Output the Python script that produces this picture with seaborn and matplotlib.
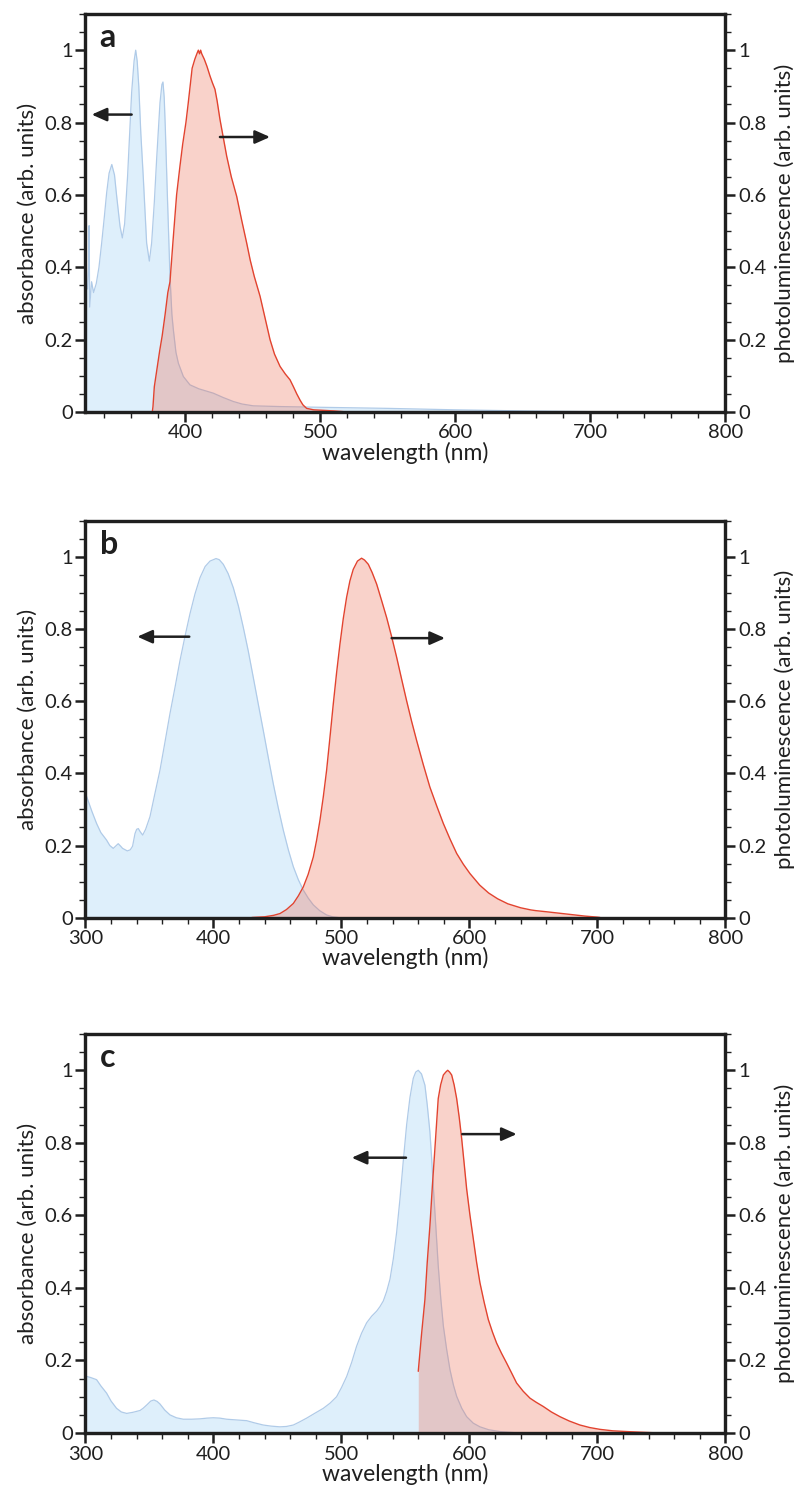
import numpy as np
import pandas as pd
import seaborn as sns
import matplotlib
matplotlib.use("Agg")
import matplotlib.pyplot as plt
from matplotlib.ticker import MultipleLocator, FuncFormatter

sns.set_theme(style="ticks")
plt.rcParams['font.family'] = ['Lato', 'DejaVu Sans']

# ---------------- data ----------------
# Panel a
a_abs_wl = [326, 327.5, 328.3, 328.7, 329.1, 330.5, 332, 334, 336, 338, 340, 341.7, 343.5, 345.5,
            347.5, 349.1, 351.6, 353.3, 355, 357.2, 360.2, 362, 363.2, 364.3, 365.5, 367, 368.8,
            371.3, 373.3, 375, 377, 378.7, 381.2, 382.6, 383.4, 384.3, 385.1, 386.6, 388.6, 390,
            391.1, 393, 394.8, 398.5, 403.4, 410, 420.7, 428, 435.5, 442, 450.3, 470, 500, 550,
            600, 650, 700, 800]
a_abs = [0.35, 0.34, 0.40, 0.515, 0.29, 0.36, 0.33, 0.355, 0.40, 0.467, 0.54, 0.606, 0.66, 0.684,
         0.655, 0.597, 0.513, 0.481, 0.52, 0.652, 0.883, 0.97, 1.0, 0.97, 0.90, 0.77, 0.65,
         0.467, 0.417, 0.467, 0.58, 0.698, 0.855, 0.905, 0.912, 0.87, 0.79, 0.606, 0.375, 0.27,
         0.227, 0.165, 0.135, 0.098, 0.075, 0.064, 0.052, 0.04, 0.029, 0.022, 0.017, 0.015, 0.013,
         0.010, 0.006, 0.003, 0.001, 0.0]
a_pl_wl = [375.5, 376, 377, 379, 381, 382.8, 385, 387, 388.6, 391, 393.5, 396, 398, 400.4, 402,
           403.5, 405, 407, 408.5, 409.6, 410.5, 411.3, 412.1, 414, 416, 418.2, 420, 421.9, 423.5,
           425.6, 428, 430.6, 434, 438, 441.7, 445.4, 448, 451, 455.3, 459, 462.7, 466, 470.1,
           474, 477.5, 480, 482.5, 484.9, 487, 489.8, 495, 500, 510, 520]
a_pl = [0.0, 0.015, 0.07, 0.12, 0.17, 0.21, 0.27, 0.33, 0.36, 0.48, 0.60, 0.68, 0.74, 0.80, 0.85,
        0.90, 0.95, 0.975, 0.99, 1.0, 0.99, 1.0, 0.99, 0.975, 0.955, 0.929, 0.91, 0.892, 0.86,
        0.809, 0.76, 0.707, 0.65, 0.596, 0.53, 0.467, 0.42, 0.375, 0.32, 0.26, 0.2, 0.16, 0.126,
        0.105, 0.089, 0.07, 0.05, 0.033, 0.02, 0.01, 0.006, 0.005, 0.003, 0.0]

# Panel b
b_abs_wl = [300, 301, 305, 308.7, 312, 316.5, 319, 321.7, 323.5, 325.6, 327.5, 329, 332.7, 335,
            336.8, 338.7, 340, 341.3, 342.8, 344.7, 347, 350.4, 354, 358.2, 362, 366, 370, 373.8,
            377.7, 381.6, 385.5, 389.5, 393.5, 397.3, 402, 404.5, 407.7, 411.5, 415.5, 419.5,
            423.3, 427.2, 431.1, 435, 438.9, 442.8, 446.7, 450.6, 454.6, 458.5, 462.4, 466.3,
            470.2, 474, 478, 483, 488.4, 493, 497.5]
b_abs = [0.345, 0.335, 0.295, 0.261, 0.236, 0.215, 0.2, 0.192, 0.198, 0.205, 0.198, 0.192, 0.185,
         0.188, 0.198, 0.233, 0.245, 0.247, 0.238, 0.229, 0.245, 0.28, 0.34, 0.409, 0.485, 0.566,
         0.64, 0.713, 0.78, 0.843, 0.898, 0.944, 0.975, 0.99, 0.997, 0.994, 0.981, 0.955, 0.916,
         0.865, 0.806, 0.74, 0.667, 0.593, 0.520, 0.445, 0.372, 0.305, 0.242, 0.188, 0.141, 0.105,
         0.076, 0.054, 0.035, 0.019, 0.007, 0.002, 0.0]
b_pl_wl = [430, 440, 447, 452, 457, 462.4, 466.3, 470.2, 474, 478, 480.6, 483.2, 485.8, 488.4, 491,
           493.6, 496.2, 498.8, 501.4, 504, 506.6, 509.2, 512.5, 515.7, 518, 521, 524, 527.5,
           531.4, 535.3, 539.2, 543.1, 547, 550.9, 554.8, 558.7, 563.9, 569.1, 574.4, 579.6,
           584.8, 590, 595.2, 600.4, 608, 615, 622, 630, 640, 648, 652, 660, 670, 680, 690, 700, 702]
b_pl = [0.0, 0.002, 0.006, 0.011, 0.022, 0.039, 0.06, 0.085, 0.12, 0.168, 0.215, 0.270, 0.335,
        0.409, 0.50, 0.593, 0.68, 0.759, 0.83, 0.889, 0.935, 0.967, 0.99, 0.998, 0.993, 0.981,
        0.958, 0.926, 0.88, 0.833, 0.78, 0.723, 0.662, 0.602, 0.545, 0.492, 0.425, 0.362, 0.31,
        0.261, 0.218, 0.178, 0.148, 0.122, 0.09, 0.068, 0.052, 0.038, 0.027, 0.021, 0.019, 0.016,
        0.012, 0.008, 0.004, 0.001, 0.0]

# Panel c
c_abs_wl = [300, 300.9, 304, 308.7, 312, 316.5, 320, 324.3, 328, 332.2, 337, 342.6, 345, 347.8, 351,
            353.5, 356, 358.2, 362, 366, 371, 376.4, 383, 389.4, 395, 399.9, 405, 410.3, 418,
            425.9, 432, 438.9, 445, 451.9, 457, 462.4, 467, 472.8, 479, 485.8, 491, 496.2, 500,
            504.1, 508, 511.8, 515.7, 519.7, 523.6, 527.5, 530, 532.7, 535.3, 537.9, 540.5, 543.1,
            545.7, 548.3, 550.9, 553.5, 556.1, 558, 560, 562.5, 565.2, 567, 569.1, 570.4, 571.7,
            573.7, 575.6, 577.6, 579.6, 582.2, 584.8, 587.4, 590, 594, 597.8, 603, 608.2, 615,
            623.8, 635, 650]
c_abs = [0.157, 0.156, 0.153, 0.147, 0.13, 0.110, 0.088, 0.068, 0.058, 0.054, 0.057, 0.062, 0.068,
         0.077, 0.088, 0.091, 0.087, 0.08, 0.063, 0.050, 0.042, 0.038, 0.038, 0.039, 0.041, 0.042,
         0.041, 0.038, 0.036, 0.034, 0.028, 0.022, 0.019, 0.017, 0.018, 0.022, 0.03, 0.041, 0.054,
         0.068, 0.082, 0.100, 0.125, 0.156, 0.195, 0.239, 0.275, 0.304, 0.322, 0.336, 0.348,
         0.364, 0.39, 0.424, 0.48, 0.553, 0.645, 0.75, 0.849, 0.925, 0.978, 0.995, 1.0, 0.99,
         0.959, 0.905, 0.830, 0.76, 0.682, 0.57, 0.461, 0.37, 0.295, 0.23, 0.174, 0.133, 0.101,
         0.068, 0.045, 0.027, 0.017, 0.009, 0.004, 0.001, 0.0]
c_pl_wl = [560, 562.5, 565.2, 567, 569.1, 571, 573, 575.6, 577.5, 579.6, 581.5, 583, 584.5, 586.1,
           588, 590, 592, 593.9, 595.8, 597.8, 600.4, 603, 605.6, 608.2, 611.5, 614.7, 618, 621.2,
           625, 629, 633, 636.8, 642, 647.3, 652, 657.7, 664, 670.7, 678, 686.3, 694, 702, 712,
           722.8, 735, 748.8]
c_pl = [0.17, 0.27, 0.368, 0.47, 0.571, 0.68, 0.784, 0.922, 0.96, 0.987, 0.995, 1.0, 0.995, 0.987,
        0.96, 0.922, 0.87, 0.812, 0.745, 0.673, 0.60, 0.535, 0.47, 0.414, 0.36, 0.313, 0.278,
        0.248, 0.22, 0.193, 0.165, 0.138, 0.115, 0.096, 0.085, 0.073, 0.058, 0.045, 0.033, 0.022,
        0.015, 0.010, 0.006, 0.004, 0.002, 0.0]

panel_letters = ["a", "b", "c"]
x_ranges = [(326, 800), (300, 800), (300, 800)]
# arrows: (tail_x, head_x, y) for absorbance (left) and PL (right)
abs_arrows = [(360.2, 330.6, 0.822), (381.1, 340.5, 0.78), (550.4, 508.0, 0.759)]
pl_arrows = [(425.6, 462.7, 0.76), (539.2, 580.9, 0.776), (594.4, 636.9, 0.824)]

# ---------------- style ----------------
ABS_LINE = "#b0cbe8"
ABS_FILL = "#a3d2f6"
PL_LINE = "#e2432f"
PL_FILL = "#ec6a50"
INK = "#1f1f1f"
TICK_FS = 14.5
LABEL_FS = 16

fig = plt.figure(figsize=(7.98, 14.91), dpi=100)
L, W = 0.1071, 0.802
axes_pos = [(0.72368, 0.26694), (0.38464, 0.2656), (0.03890, 0.2676)]

datasets = [(a_abs_wl, a_abs, a_pl_wl, a_pl),
            (b_abs_wl, b_abs, b_pl_wl, b_pl),
            (c_abs_wl, c_abs, c_pl_wl, c_pl)]

fmt = FuncFormatter(lambda v, p: f"{v:g}")

for i, (aw, av, pw, pv) in enumerate(datasets):
    bottom, height = axes_pos[i]
    ax = fig.add_axes([L, bottom, W, height])
    ax2 = ax.twinx()

    df_abs = pd.DataFrame({"wavelength": aw, "absorbance": av})
    df_pl = pd.DataFrame({"wavelength": pw, "pl": pv})

    ax.fill_between(df_abs["wavelength"], 0, df_abs["absorbance"], color=ABS_FILL,
                    alpha=0.35, linewidth=0)
    sns.lineplot(data=df_abs, x="wavelength", y="absorbance", ax=ax, color=ABS_LINE,
                 linewidth=0.9, sort=False, estimator=None)
    ax2.fill_between(df_pl["wavelength"], 0, df_pl["pl"], color=PL_FILL, alpha=0.3,
                     linewidth=0)
    sns.lineplot(data=df_pl, x="wavelength", y="pl", ax=ax2, color=PL_LINE,
                 linewidth=1.0, sort=False, estimator=None)

    for a in (ax, ax2):
        a.set_xlim(*x_ranges[i])
        a.set_ylim(0, 1.1)
        a.yaxis.set_major_locator(MultipleLocator(0.2))
        a.yaxis.set_minor_locator(MultipleLocator(0.05))
        a.yaxis.set_major_formatter(fmt)
        for s in a.spines.values():
            s.set_linewidth(2.3)
            s.set_color(INK)
            s.set_visible(True)
    ax.xaxis.set_major_locator(MultipleLocator(100))
    ax.xaxis.set_minor_locator(MultipleLocator(20))

    ax.tick_params(axis="both", which="major", direction="out", length=7, width=1.8,
                   color=INK, labelsize=TICK_FS, labelcolor=INK, pad=2)
    ax.tick_params(axis="both", which="minor", direction="out", length=4.5, width=1.0,
                   color=INK)
    ax.tick_params(axis="y", which="both", left=True, right=False)
    ax2.tick_params(axis="y", which="major", direction="out", length=7, width=1.8,
                    color=INK, labelsize=TICK_FS, labelcolor=INK, pad=2)
    ax2.tick_params(axis="y", which="minor", direction="out", length=4.5, width=1.0,
                    color=INK)

    ax.set_xlabel("wavelength (nm)", fontsize=LABEL_FS + 0.5, color=INK, labelpad=0)
    ax.set_ylabel("absorbance (arb. units)", fontsize=LABEL_FS, color=INK, labelpad=5)
    ax2.set_ylabel("photoluminescence (arb. units)", fontsize=LABEL_FS, color=INK,
                   labelpad=6)

    ax2.text(0.022, 0.918, panel_letters[i], transform=ax2.transAxes, fontsize=23,
             fontweight="bold", color=INK, ha="left", va="baseline")

    arrow_kw = dict(arrowstyle="-|>,head_length=0.45,head_width=0.2", color=INK, lw=1.8,
                    mutation_scale=20, shrinkA=0, shrinkB=0)
    tx, hx, yy = abs_arrows[i]
    ax2.annotate("", xy=(hx, yy), xytext=(tx, yy), arrowprops=arrow_kw)
    tx, hx, yy = pl_arrows[i]
    ax2.annotate("", xy=(hx, yy), xytext=(tx, yy), arrowprops=arrow_kw)

fig.savefig("out.png", dpi=100, facecolor="white")
